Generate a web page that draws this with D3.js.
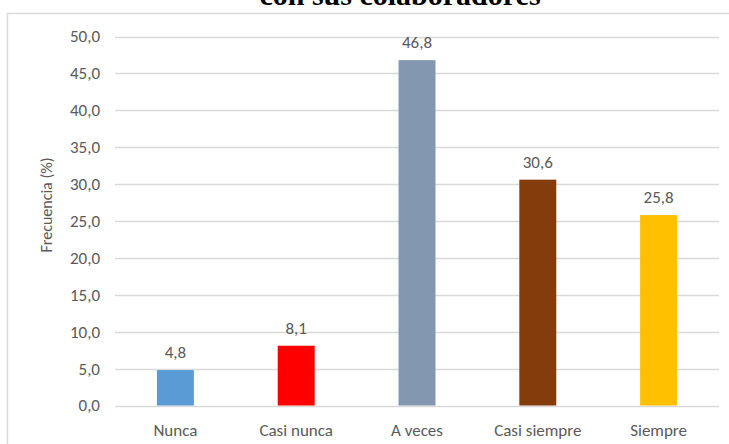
<!DOCTYPE html>
<html>
<head>
<meta charset="utf-8">
<script src="https://cdn.jsdelivr.net/npm/d3@7"></script>
<style>
    html, body { margin: 0; padding: 0; background: #fff; }
    svg { display: block; }
</style>
</head>
<body>
<svg id="chart" width="729" height="444"></svg>
<script>
    'use strict';

    var categories = ['Nunca', 'Casi nunca', 'A veces', 'Casi siempre', 'Siempre'];
    var values = [4.8, 8.1, 46.8, 30.6, 25.8];
    var colors = ['#5b9bd5', '#ff0000', '#8497b0', '#843c0c', '#ffc000'];
    var yTicks = [0, 5, 10, 15, 20, 25, 30, 35, 40, 45, 50];
    var title = 'con sus colaboradores';
    var yTitle = 'Frecuencia (%)';

    var svg = d3.select('#chart');
    var font = 'Carlito, Lato, "Open Sans", sans-serif';
    var textColor = '#595959';
    var fontSize = '17px';

    var plot = { left: 115, right: 719, top: 36.5, bottom: 405.5 };

    var x = d3.scaleBand()
        .domain(categories)
        .range([plot.left, plot.right])
        .padding(0);

    var y = d3.scaleLinear()
        .domain([0, 50])
        .range([plot.bottom, plot.top]);

    var barWidth = x.bandwidth() * 0.306;

    // chart border (runs off the right and bottom edges)
    svg.append('rect')
        .attr('x', 7.5)
        .attr('y', 13.5)
        .attr('width', 900)
        .attr('height', 600)
        .attr('fill', 'none')
        .attr('stroke', '#d9d9d9')
        .attr('stroke-width', 1.5);

    // title, cut off at the top as in the source
    svg.append('text')
        .attr('x', 400)
        .attr('y', 5)
        .attr('text-anchor', 'middle')
        .style('font-family', '"Liberation Serif", "Times New Roman", serif')
        .style('font-weight', 'bold')
        .style('font-size', '30px')
        .attr('fill', '#000')
        .text(title);

    // gridlines
    svg.append('g')
        .selectAll('line')
        .data(yTicks)
        .enter().append('line')
        .attr('x1', plot.left)
        .attr('x2', plot.right)
        .attr('y1', function(d) { return Math.round(y(d)) + 0.5; })
        .attr('y2', function(d) { return Math.round(y(d)) + 0.5; })
        .attr('stroke', '#d9d9d9')
        .attr('stroke-width', 1.3);

    // y axis labels
    var yAxis = d3.axisLeft(y)
        .tickValues(yTicks)
        .tickSize(0)
        .tickPadding(0)
        .tickFormat(function(d) { return d3.format('.1f')(d).replace('.', ','); });

    var yAxisG = svg.append('g')
        .attr('transform', 'translate(100,0)')
        .call(yAxis);
    yAxisG.select('.domain').remove();
    yAxisG.selectAll('text')
        .style('font-family', font)
        .style('font-size', fontSize)
        .attr('fill', textColor);

    // bars
    svg.append('g')
        .selectAll('rect')
        .data(values)
        .enter().append('rect')
        .attr('x', function(d, i) { return x(categories[i]) + x.bandwidth() / 2 - barWidth / 2; })
        .attr('y', function(d) { return y(d); })
        .attr('width', barWidth)
        .attr('height', function(d) { return y(0) - y(d); })
        .attr('fill', function(d, i) { return colors[i]; });

    // data labels
    svg.append('g')
        .selectAll('text')
        .data(values)
        .enter().append('text')
        .attr('x', function(d, i) { return x(categories[i]) + x.bandwidth() / 2; })
        .attr('y', function(d) { return y(d) - 12; })
        .attr('text-anchor', 'middle')
        .style('font-family', font)
        .style('font-size', fontSize)
        .attr('fill', textColor)
        .text(function(d) { return d3.format('.1f')(d).replace('.', ','); });

    // category labels
    var xAxis = d3.axisBottom(x).tickSize(0).tickPadding(0);
    var xAxisG = svg.append('g')
        .attr('transform', 'translate(0,' + plot.bottom + ')')
        .call(xAxis);
    xAxisG.select('.domain').remove();
    xAxisG.selectAll('text')
        .attr('dy', null)
        .attr('y', 30)
        .style('font-family', font)
        .style('font-size', fontSize)
        .attr('fill', textColor);

    // y axis title
    svg.append('text')
        .attr('transform', 'translate(52,205) rotate(-90)')
        .attr('text-anchor', 'middle')
        .style('font-family', font)
        .style('font-size', '16px')
        .attr('fill', textColor)
        .text(yTitle);
</script>
</body>
</html>
